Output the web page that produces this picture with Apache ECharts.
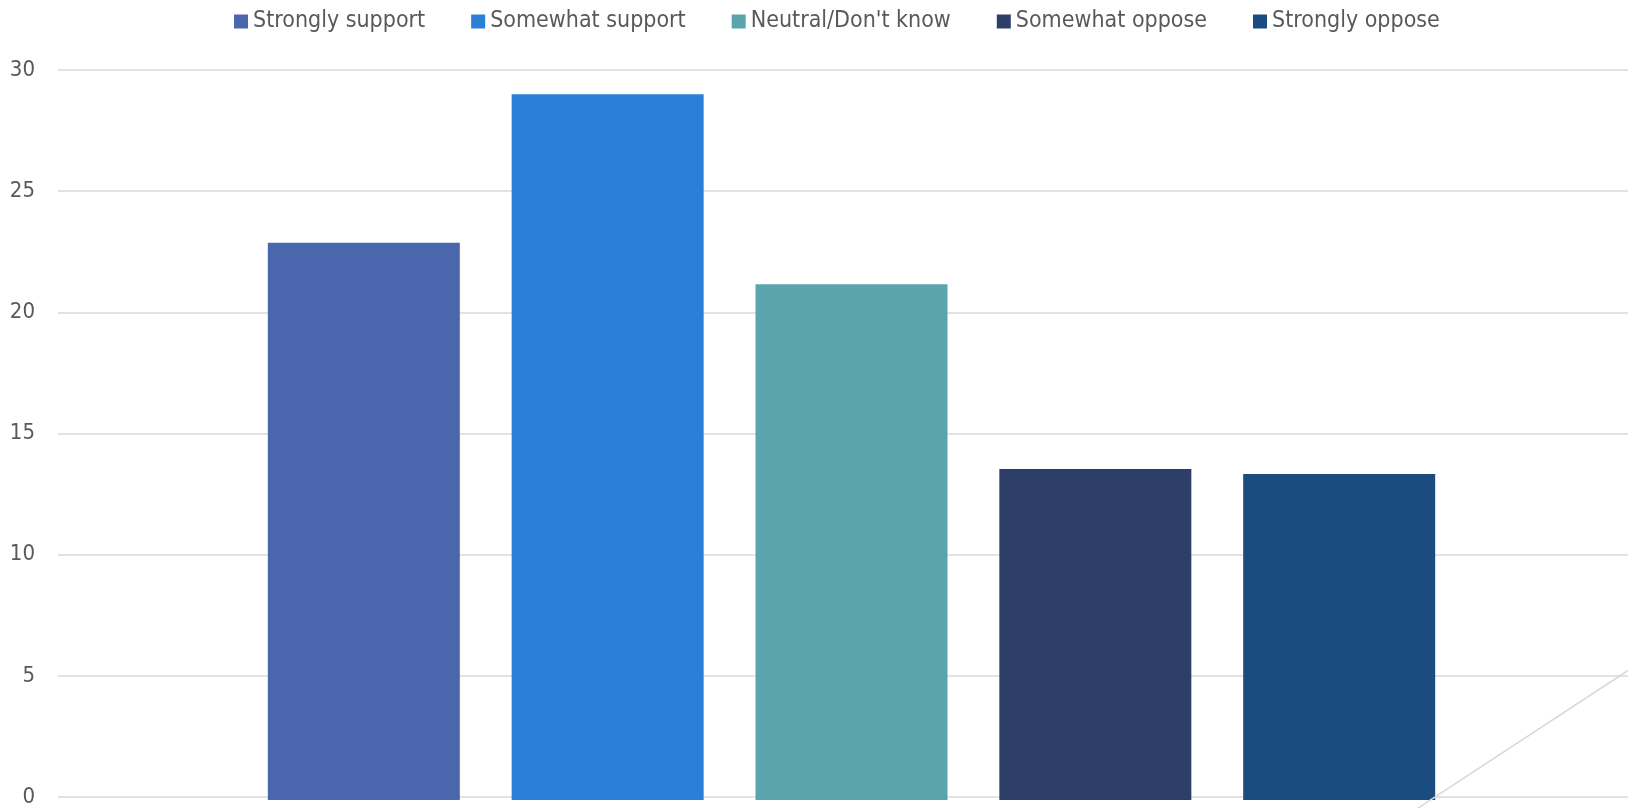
<!DOCTYPE html>
<html>
<head>
<meta charset="utf-8">
<script src="https://cdn.jsdelivr.net/npm/echarts@6/dist/echarts.min.js"></script>
<style>
html,body{margin:0;padding:0;background:#fff;}
#chart{width:1628px;height:808px;}
</style>
</head>
<body>
<div id="chart"></div>
<script>
const categories = [''];
const seriesNames = ['Strongly support', 'Somewhat support', "Neutral/Don't know", 'Somewhat oppose', 'Strongly oppose'];
const seriesValues = [22.9, 29.0, 21.2, 13.6, 13.4];
const seriesColors = ['#4A67AE', '#2B7FD8', '#5BA3AD', '#2D3E68', '#1A4C80'];
const yTicks = [0, 5, 10, 15, 20, 25, 30];
// stray diagonal line (x on a hidden 0-100 value axis, y in chart units)
const diagX = [85.35, 100];
const diagY = [-1, 5.22];

const FONT = '"DejaVu Sans Condensed", "DejaVu Sans", sans-serif';
const chart = echarts.init(document.getElementById('chart'));

const series = seriesNames.map((name, i) => ({
  name: name,
  type: 'bar',
  data: [seriesValues[i]],
  barWidth: 192,
  barGap: '27%',
  itemStyle: { color: seriesColors[i] },
  xAxisIndex: 0,
  yAxisIndex: 0,
  animation: false
}));
series.push({
  name: 'diag',
  type: 'line',
  xAxisIndex: 1,
  yAxisIndex: 1,
  data: diagX.map((x, i) => [x, diagY[i]]),
  symbol: 'none',
  clip: false,
  lineStyle: { color: '#D9D9D9', width: 1.5 },
  silent: true,
  animation: false
});

const yMin = yTicks[0], yMax = yTicks[yTicks.length - 1], yInt = yTicks[1] - yTicks[0];

chart.setOption({
  backgroundColor: '#fff',
  textStyle: { fontFamily: FONT },
  legend: {
    data: seriesNames,
    top: 5,
    left: 229,
    itemWidth: 14,
    itemHeight: 14,
    itemGap: 46,
    icon: 'rect',
    textStyle: { color: '#595959', fontSize: 23, fontFamily: FONT }
  },
  grid: [
    { left: 75, right: 0, top: 70, bottom: 8, containLabel: false },
    { left: 58, right: 0, top: 70, bottom: 8, containLabel: false }
  ],
  xAxis: [
    {
      type: 'category',
      gridIndex: 0,
      data: categories,
      axisLine: { show: false },
      axisTick: { show: false },
      axisLabel: { show: false }
    },
    {
      type: 'value',
      gridIndex: 1,
      min: 0,
      max: 100,
      axisLine: { show: false },
      axisTick: { show: false },
      axisLabel: { show: false },
      splitLine: { show: false }
    }
  ],
  yAxis: [
    {
      type: 'value',
      gridIndex: 0,
      min: yMin, max: yMax, interval: yInt,
      show: false
    },
    {
      type: 'value',
      gridIndex: 1,
      min: yMin, max: yMax, interval: yInt,
      axisLine: { show: false },
      axisTick: { show: false },
      axisLabel: { color: '#595959', fontSize: 22, margin: 23, fontFamily: FONT },
      splitLine: { lineStyle: { color: '#D9D9D9', width: 1.5 } }
    }
  ],
  series: series
});
</script>
</body>
</html>
